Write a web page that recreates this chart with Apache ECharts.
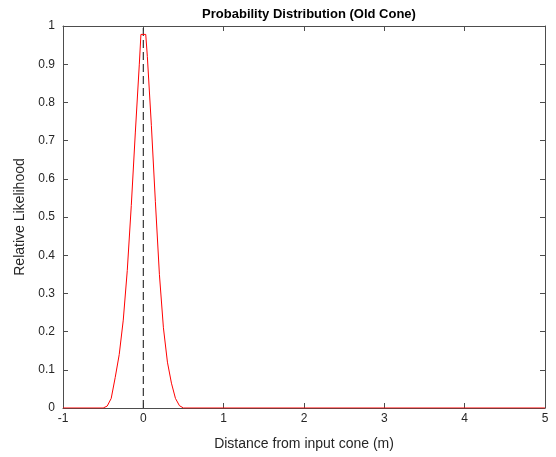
<!DOCTYPE html>
<html>
<head>
<meta charset="utf-8">
<script src="https://cdn.jsdelivr.net/npm/echarts@6/dist/echarts.min.js"></script>
<style>html,body{margin:0;padding:0;background:#fff}#c{width:556px;height:457px}</style>
</head>
<body>
<div id="c"></div>
<script>
const xValues = [-1, -0.5, -0.45, -0.4, -0.35, -0.3, -0.25, -0.2, -0.15, -0.1, -0.05, -0.03, 0.03, 0.05, 0.1, 0.15, 0.2, 0.25, 0.3, 0.35, 0.4, 0.45, 0.5, 5];
const likelihood = [0, 0, 0.005, 0.025, 0.08, 0.14, 0.23, 0.36, 0.53, 0.72, 0.9, 0.978, 0.978, 0.92, 0.74, 0.54, 0.35, 0.21, 0.12, 0.065, 0.025, 0.006, 0, 0];
const markerX = [0, 0];
const markerY = [0, 1];
const xTicks = [-1, 0, 1, 2, 3, 4, 5];
const yTicks = [0, 0.1, 0.2, 0.3, 0.4, 0.5, 0.6, 0.7, 0.8, 0.9, 1];

const axisColor = '#4d4d4d';
const font = 'Liberation Sans, Arial, sans-serif';
const chart = echarts.init(document.getElementById('c'), null, {renderer: 'canvas'});
const lineAx = {show: true, onZero: false, lineStyle: {color: axisColor, width: 1}};
const tickAx = {show: true, inside: true, length: 5, lineStyle: {color: axisColor}};
chart.setOption({
  animation: false,
  backgroundColor: '#fff',
  title: {
    text: 'Probability Distribution (Old Cone)',
    left: 304, top: 3, textAlign: 'center',
    textStyle: {fontFamily: font, fontSize: 13, fontWeight: 'bold', color: '#000'}
  },
  grid: {left: 63, right: 11, top: 26, bottom: 49, containLabel: false},
  xAxis: [{
    type: 'value', min: xTicks[0], max: xTicks[xTicks.length - 1], interval: 1,
    axisLine: lineAx, axisTick: tickAx, splitLine: {show: false},
    axisLabel: {fontFamily: font, fontSize: 12, color: '#262626', margin: 5},
    name: 'Distance from input cone (m)', nameLocation: 'middle', nameGap: 29,
    nameTextStyle: {fontFamily: font, fontSize: 14, color: '#262626'}
  }, {
    type: 'value', position: 'top', min: -1, max: 5, interval: 1,
    axisLine: lineAx, axisTick: tickAx, axisLabel: {show: false}, splitLine: {show: false}
  }],
  yAxis: [{
    type: 'value', min: yTicks[0], max: yTicks[yTicks.length - 1], interval: 0.1,
    axisLine: lineAx, axisTick: tickAx, splitLine: {show: false},
    axisLabel: {fontFamily: font, fontSize: 12, color: '#262626', margin: 8,
      formatter: v => String(Math.round(v * 10) / 10)},
    name: 'Relative Likelihood', nameLocation: 'middle', nameGap: 33,
    nameTextStyle: {fontFamily: font, fontSize: 14, color: '#262626'}
  }, {
    type: 'value', position: 'right', min: 0, max: 1, interval: 0.1,
    axisLine: lineAx, axisTick: tickAx, axisLabel: {show: false}, splitLine: {show: false}
  }],
  series: [{
    type: 'line', xAxisIndex: 0, yAxisIndex: 0,
    data: markerX.map((x, i) => [x, markerY[i]]),
    symbol: 'none', lineStyle: {color: '#333', width: 1.2, type: [8, 4]}, z: 2
  }, {
    type: 'line', xAxisIndex: 0, yAxisIndex: 0,
    data: xValues.map((x, i) => [x, likelihood[i]]),
    symbol: 'none', smooth: false, lineStyle: {color: '#ff0000', width: 1}, z: 3
  }]
});
</script>
</body>
</html>
